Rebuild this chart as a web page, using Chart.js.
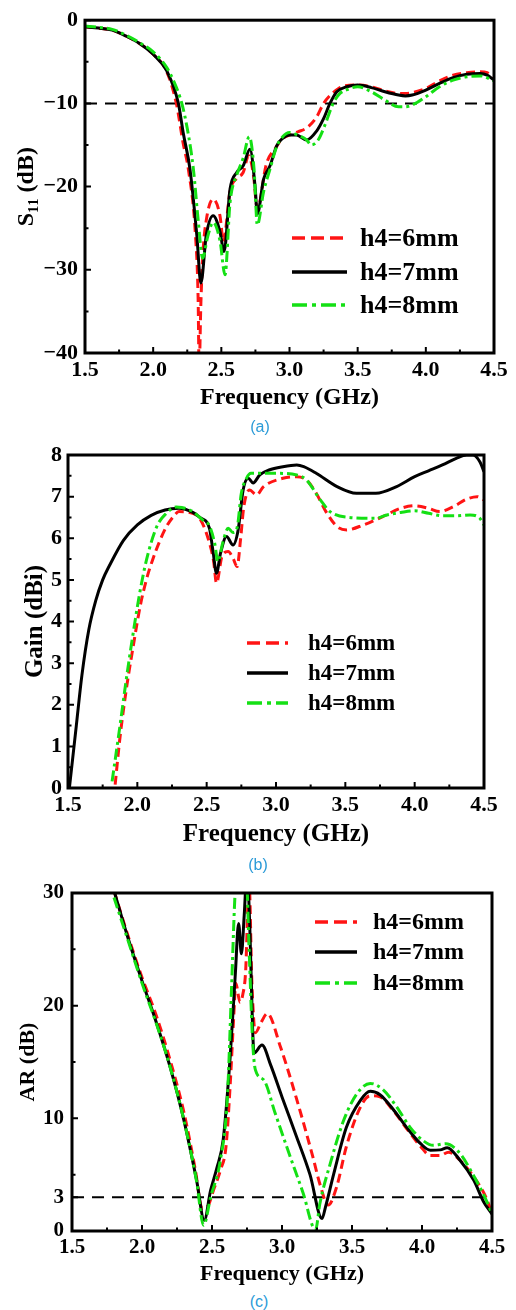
<!DOCTYPE html>
<html lang="en">
<head>
<meta charset="UTF-8">
<title>S11, Gain and AR versus frequency</title>
<script src="https://cdn.jsdelivr.net/npm/chart.js"></script>
<style>
  body { margin: 0; background: #fff; width: 516px; height: 1310px; position: relative; overflow: hidden; }
  canvas { position: absolute; left: 0; }
  .cap { position: absolute; width: 40px; text-align: center; line-height: 18px;
         font-family: "Liberation Sans", Arial, sans-serif; font-size: 16px; color: #2b9bd8; }
</style>
</head>
<body>
<canvas id="chartA" width="516" height="415" style="top:0px"></canvas>
<canvas id="chartB" width="516" height="425" style="top:430px"></canvas>
<canvas id="chartC" width="516" height="422" style="top:870px"></canvas>
<div class="cap" style="left:240px;top:418px">(a)</div>
<div class="cap" style="left:238px;top:856px">(b)</div>
<div class="cap" style="left:239px;top:1293px">(c)</div>

<script>
// shared axis / legend data
const freqTicks = [1.5, 2.0, 2.5, 3.0, 3.5, 4.0, 4.5];
const freqMinor = [1.75, 2.25, 2.75, 3.25, 3.75, 4.25];
const seriesNames = ['h4=6mm', 'h4=7mm', 'h4=8mm'];

// (a) S11
const s11Ticks = [0, -10, -20, -30, -40];
const s11Minor = [-5, -15, -25, -35];
const s11Limit = -10;
const s11Freq6 = [1.5, 1.6, 1.7, 1.8, 1.9, 2.0, 2.1, 2.17, 2.22, 2.258, 2.31, 2.33, 2.337, 2.35, 2.365, 2.39, 2.44, 2.49, 2.515, 2.564, 2.613, 2.66, 2.70, 2.735, 2.764, 2.83, 2.9, 2.95, 3.0, 3.065, 3.13, 3.2, 3.25, 3.3, 3.36, 3.4, 3.5, 3.6, 3.7, 3.8, 3.85, 3.9, 4.0, 4.1, 4.2, 4.3, 4.4, 4.45, 4.5];
const s11Val6  = [-0.8, -0.95, -1.2, -1.9, -2.8, -4.1, -6.2, -10, -14.8, -17.9, -25.8, -33.7, -42, -34, -28, -24, -21.5, -23.5, -26.6, -20.5, -19, -18.3, -16.3, -18.5, -22.7, -17.3, -15.3, -14.2, -13.8, -13.4, -12.9, -11.6, -10.0, -9.0, -8.2, -7.9, -7.8, -8.0, -8.5, -8.8, -8.8, -8.7, -8.2, -7.3, -6.6, -6.3, -6.2, -6.3, -7.0];
const s11Freq7 = [1.5, 1.6, 1.7, 1.8, 1.9, 2.0, 2.1, 2.185, 2.22, 2.27, 2.32, 2.35, 2.39, 2.44, 2.49, 2.52, 2.564, 2.613, 2.66, 2.71, 2.747, 2.764, 2.81, 2.857, 2.906, 2.95, 3.0, 3.05, 3.126, 3.2, 3.248, 3.297, 3.347, 3.42, 3.5, 3.6, 3.7, 3.8, 3.85, 3.9, 4.0, 4.1, 4.2, 4.3, 4.4, 4.45, 4.5];
const s11Val7  = [-0.8, -0.95, -1.2, -1.9, -2.8, -4.1, -6.1, -10, -13.5, -17.9, -25.8, -31.6, -25.8, -23.5, -25.4, -27.8, -20.3, -18.3, -17.5, -15.5, -19.9, -23.3, -19.1, -17.5, -15.1, -14.2, -13.8, -13.8, -14.4, -13.3, -11.9, -10.0, -8.6, -8.0, -7.8, -8.1, -8.6, -9.0, -9.1, -9.0, -8.4, -7.6, -6.9, -6.5, -6.4, -6.6, -7.2];
const s11Freq8 = [1.5, 1.6, 1.7, 1.8, 1.9, 2.0, 2.1, 2.15, 2.21, 2.25, 2.295, 2.33, 2.363, 2.40, 2.44, 2.49, 2.527, 2.564, 2.613, 2.66, 2.705, 2.74, 2.764, 2.81, 2.857, 2.906, 2.95, 3.0, 3.06, 3.126, 3.16, 3.21, 3.26, 3.32, 3.37, 3.43, 3.5, 3.6, 3.7, 3.8, 3.85, 3.9, 4.0, 4.1, 4.2, 4.3, 4.4, 4.5];
const s11Val8  = [-0.7, -0.85, -1.1, -1.8, -2.7, -3.8, -5.7, -7.3, -10, -13.0, -17.9, -24, -28.6, -26, -24.3, -26.5, -30.6, -21.9, -18.6, -16.6, -14.0, -17.9, -24.6, -20.6, -17.9, -15.2, -14.0, -13.5, -13.8, -14.4, -15.0, -14.4, -12.6, -10.0, -8.8, -8.3, -8.0, -8.6, -9.6, -10.4, -10.4, -10.2, -9.2, -8.0, -7.2, -6.8, -6.7, -7.3];

// (b) Gain
const gainTicks = [0, 1, 2, 3, 4, 5, 6, 7, 8];
const gainMinor = [0.5, 1.5, 2.5, 3.5, 4.5, 5.5, 6.5, 7.5];
const gainFreq6 = [1.84, 1.873, 1.92, 1.97, 2.02, 2.065, 2.11, 2.16, 2.21, 2.26, 2.3, 2.4, 2.45, 2.51, 2.55, 2.571, 2.61, 2.655, 2.69, 2.72, 2.744, 2.768, 2.81, 2.86, 2.91, 3.05, 3.15, 3.22, 3.29, 3.36, 3.44, 3.51, 3.63, 3.77, 3.9, 4.0, 4.1, 4.18, 4.28, 4.375, 4.45, 4.5];
const gainVal6  = [0.08, 1.16, 2.36, 3.4, 4.36, 5.0, 5.48, 5.92, 6.28, 6.52, 6.64, 6.6, 6.48, 6.0, 5.45, 4.92, 5.56, 5.68, 5.52, 5.32, 5.96, 6.76, 7.16, 7.04, 7.24, 7.44, 7.48, 7.4, 7.08, 6.64, 6.28, 6.2, 6.32, 6.52, 6.72, 6.78, 6.72, 6.64, 6.76, 6.94, 7.0, 6.92];
const gainFreq7 = [1.51, 1.56, 1.6, 1.65, 1.7, 1.75, 1.8, 1.9, 2.0, 2.1, 2.2, 2.3, 2.4, 2.45, 2.52, 2.546, 2.571, 2.6, 2.643, 2.69, 2.727, 2.763, 2.8, 2.835, 2.883, 2.95, 3.05, 3.15, 3.2, 3.29, 3.44, 3.58, 3.72, 3.87, 4.0, 4.1, 4.2, 4.3, 4.375, 4.42, 4.47, 4.5];
const gainVal7  = [0.0, 1.5, 2.7, 3.8, 4.5, 5.0, 5.35, 5.95, 6.32, 6.55, 6.68, 6.72, 6.62, 6.5, 6.24, 5.68, 5.16, 5.64, 6.04, 5.84, 6.2, 7.16, 7.44, 7.33, 7.52, 7.64, 7.72, 7.76, 7.72, 7.56, 7.24, 7.08, 7.08, 7.24, 7.48, 7.62, 7.76, 7.92, 8.0, 8.0, 7.84, 7.6];
const gainFreq8 = [1.818, 1.873, 1.92, 1.97, 2.017, 2.066, 2.14, 2.21, 2.28, 2.32, 2.4, 2.47, 2.52, 2.56, 2.58, 2.618, 2.655, 2.69, 2.72, 2.75, 2.787, 2.82, 2.91, 3.0, 3.15, 3.22, 3.32, 3.39, 3.53, 3.72, 3.8, 3.9, 4.0, 4.1, 4.2, 4.3, 4.4, 4.47, 4.5];
const gainVal8  = [0.16, 1.45, 2.6, 3.72, 4.68, 5.48, 6.28, 6.6, 6.75, 6.74, 6.64, 6.44, 6.3, 5.84, 5.44, 5.92, 6.24, 6.14, 6.26, 7.08, 7.44, 7.56, 7.56, 7.56, 7.52, 7.4, 6.92, 6.64, 6.5, 6.48, 6.56, 6.62, 6.66, 6.6, 6.54, 6.54, 6.56, 6.48, 6.32];

// (c) AR
const arTicks = [0, 3, 10, 20, 30];
const arMinor = [5, 15, 25];
const arLimit = 3;
const arFreq6 = [1.8, 1.9, 2.0, 2.1, 2.2, 2.3, 2.38, 2.43, 2.47, 2.51, 2.56, 2.6, 2.63, 2.655, 2.67, 2.70, 2.72, 2.74, 2.765, 2.785, 2.81, 2.85, 2.895, 2.99, 3.1, 3.22, 3.27, 3.33, 3.39, 3.46, 3.56, 3.63, 3.70, 3.80, 3.89, 3.99, 4.06, 4.13, 4.19, 4.27, 4.37, 4.46, 4.5];
const arVal6  = [30.2, 26.2, 22.5, 19.2, 15.2, 10.5, 5.5, 2.0, 2.2, 3.6, 5.4, 7.5, 13, 19, 22, 20.3, 21, 23, 31, 22, 17.6, 18.5, 19.3, 16.3, 11.9, 6.6, 4.2, 2.3, 3.9, 7.5, 11.0, 12.0, 11.9, 10.6, 9.1, 7.5, 6.7, 6.7, 7.0, 6.3, 4.8, 2.9, 1.5];
const arFreq7 = [1.8, 1.9, 2.0, 2.1, 2.2, 2.3, 2.39, 2.445, 2.49, 2.535, 2.58, 2.63, 2.667, 2.69, 2.71, 2.73, 2.75, 2.77, 2.79, 2.80, 2.857, 2.92, 3.0, 3.1, 3.2, 3.286, 3.31, 3.37, 3.46, 3.56, 3.63, 3.70, 3.80, 3.89, 3.99, 4.06, 4.13, 4.18, 4.27, 4.37, 4.44, 4.5];
const arVal7  = [30.2, 26.0, 22.2, 18.6, 14.6, 9.8, 4.5, 0.95, 3.6, 5.6, 8.1, 15.5, 22.9, 27.3, 24.6, 28, 32, 27, 18, 15.8, 16.5, 14.7, 11.9, 8.5, 5.0, 1.1, 2.1, 5.1, 9.2, 11.6, 12.4, 12.1, 10.7, 9.2, 7.75, 7.16, 7.2, 7.4, 6.3, 4.5, 2.6, 1.5];
const arFreq8 = [1.8, 1.9, 2.0, 2.1, 2.2, 2.3, 2.39, 2.44, 2.49, 2.56, 2.61, 2.64, 2.665, 2.69, 2.74, 2.765, 2.79, 2.81, 2.87, 2.95, 3.05, 3.15, 3.24, 3.27, 3.345, 3.44, 3.536, 3.63, 3.725, 3.82, 3.915, 4.01, 4.08, 4.17, 4.27, 4.36, 4.46, 4.5];
const arVal8  = [29.6, 25.8, 22.0, 18.5, 14.6, 9.8, 4.4, 0.5, 3.0, 6.3, 11.9, 21.7, 30, 33, 33, 25, 16.9, 14.3, 13.4, 10.5, 6.9, 3.4, 0.1, 2.4, 6.0, 9.8, 12.2, 13.1, 12.5, 11.0, 9.2, 8.0, 7.6, 7.75, 6.9, 5.1, 2.7, 1.5];

const serif = '"Liberation Serif", "Times New Roman", serif';
const seriesStyle = [
  { color: '#ff1414', dash: [9, 5], legendDash: [13, 6] },
  { color: '#000000', dash: [], legendDash: [] },
  { color: '#14e014', dash: [11, 4, 3, 4], legendDash: [15, 5, 4, 5] }
];

function pts(xs, ys) {
  return xs.map((x, i) => ({ x: x, y: ys[i] }));
}

// box, inward ticks and legend
const framePlugin = {
  id: 'frame',
  afterDatasetsDraw(chart, args, o) {
    const { ctx, chartArea: a, scales: { x, y } } = chart;
    ctx.save();
    ctx.strokeStyle = '#000';
    ctx.lineWidth = 2;
    ctx.setLineDash([]);
    ctx.beginPath();
    freqTicks.forEach(v => { const px = x.getPixelForValue(v); ctx.moveTo(px, a.bottom); ctx.lineTo(px, a.bottom - 6); });
    freqMinor.forEach(v => { const px = x.getPixelForValue(v); ctx.moveTo(px, a.bottom); ctx.lineTo(px, a.bottom - 3.5); });
    o.yMajor.forEach(v => { const py = y.getPixelForValue(v); ctx.moveTo(a.left, py); ctx.lineTo(a.left + 6, py); });
    o.yMinor.forEach(v => { const py = y.getPixelForValue(v); ctx.moveTo(a.left, py); ctx.lineTo(a.left + 3.5, py); });
    ctx.stroke();
    ctx.lineWidth = 3;
    ctx.strokeRect(a.left, a.top, a.right - a.left, a.bottom - a.top);

    // legend
    const lg = o.legend;
    ctx.font = 'bold ' + lg.size + 'px ' + serif;
    ctx.textBaseline = 'middle';
    ctx.textAlign = 'left';
    seriesNames.forEach((name, i) => {
      const yy = lg.rows[i];
      ctx.strokeStyle = seriesStyle[i].color;
      ctx.lineWidth = 3.5;
      ctx.setLineDash(seriesStyle[i].legendDash);
      ctx.beginPath();
      ctx.moveTo(lg.x0, yy);
      ctx.lineTo(lg.x1, yy);
      ctx.stroke();
      ctx.setLineDash([]);
      ctx.fillStyle = '#000';
      ctx.fillText(name, lg.tx, yy + 1);
    });
    ctx.restore();
  }
};

function makeChart(id, p) {
  const datasets = p.series.map((s, i) => ({
    label: seriesNames[i],
    data: pts(s[0], s[1]),
    borderColor: seriesStyle[i].color,
    borderDash: seriesStyle[i].dash,
    borderWidth: 3,
    pointRadius: 0,
    cubicInterpolationMode: 'monotone',
    fill: false,
    order: 3 - i
  }));
  if (p.limit !== undefined) {
    datasets.push({
      label: 'limit',
      data: [{ x: 1.5, y: p.limit }, { x: 4.5, y: p.limit }],
      borderColor: '#000', borderWidth: 2, borderDash: [12, 8],
      pointRadius: 0, fill: false, order: 5
    });
  }
  const tickFont = { family: serif, weight: 'bold', size: p.tickSize };
  return new Chart(document.getElementById(id), {
    type: 'line',
    data: { datasets: datasets },
    options: {
      responsive: false,
      animation: false,
      events: [],
      layout: { padding: { top: p.box.top, right: p.W - p.box.right, left: 0, bottom: 0 } },
      plugins: {
        legend: { display: false },
        tooltip: { enabled: false },
        frame: { yMajor: p.yTicks, yMinor: p.yMinor, legend: p.legend }
      },
      scales: {
        x: {
          type: 'linear', min: 1.5, max: 4.5,
          afterBuildTicks: s => { s.ticks = freqTicks.map(v => ({ value: v })); },
          afterFit: s => { s.height = p.H - p.box.bottom; },
          grid: { display: false, drawTicks: false },
          border: { display: false },
          ticks: { font: tickFont, color: '#000', padding: 4, maxRotation: 0, autoSkip: false,
                   callback: v => Number(v).toFixed(1) },
          title: { display: true, text: 'Frequency (GHz)', color: '#000',
                   font: { family: serif, weight: 'bold', size: p.titleSize },
                   padding: { top: 0, bottom: p.xTitlePad } }
        },
        y: {
          type: 'linear', min: p.yMin, max: p.yMax,
          afterBuildTicks: s => { s.ticks = p.yTicks.map(v => ({ value: v })); },
          afterFit: s => { s.width = p.box.left; },
          grid: { display: false, drawTicks: false },
          border: { display: false },
          ticks: { font: tickFont, color: '#000', padding: p.yTickPad, autoSkip: false,
                   callback: v => (v < 0 ? '\u2212' + Math.abs(v) : String(v)) },
          title: { display: true, text: p.yTitle, color: '#000',
                   font: { family: serif, weight: 'bold', size: p.titleSize },
                   padding: { top: p.yTitlePad, bottom: 0 } }
        }
      }
    },
    plugins: [framePlugin]
  });
}

makeChart('chartA', {
  W: 516, H: 415, box: { left: 85, top: 16, right: 494, bottom: 353 },
  series: [[s11Freq6, s11Val6], [s11Freq7, s11Val7], [s11Freq8, s11Val8]],
  limit: s11Limit, yMin: -40, yMax: 0, yTicks: s11Ticks, yMinor: s11Minor,
  yTitle: 'S\u2081\u2081 (dB)', tickSize: 22, titleSize: 24, xTitlePad: 3, yTitlePad: 12, yTickPad: 7,
  legend: { x0: 292, x1: 347, tx: 360, rows: [238, 272, 305], size: 26 }
});

makeChart('chartB', {
  W: 516, H: 425, box: { left: 68, top: 25, right: 484, bottom: 358 },
  series: [[gainFreq6, gainVal6], [gainFreq7, gainVal7], [gainFreq8, gainVal8]],
  yMin: 0, yMax: 8, yTicks: gainTicks, yMinor: gainMinor,
  yTitle: 'Gain (dBi)', tickSize: 22, titleSize: 25, xTitlePad: 5, yTitlePad: 21, yTickPad: 6,
  legend: { x0: 247, x1: 288, tx: 308, rows: [213, 243, 273], size: 23 }
});

makeChart('chartC', {
  W: 516, H: 422, box: { left: 72, top: 23, right: 492, bottom: 361 },
  series: [[arFreq6, arVal6], [arFreq7, arVal7], [arFreq8, arVal8]],
  limit: arLimit, yMin: 0, yMax: 30, yTicks: arTicks, yMinor: arMinor,
  yTitle: 'AR (dB)', tickSize: 21, titleSize: 22, xTitlePad: 4, yTitlePad: 15, yTickPad: 8,
  legend: { x0: 315, x1: 357, tx: 373, rows: [52, 82, 113], size: 24 }
});
</script>
</body>
</html>
